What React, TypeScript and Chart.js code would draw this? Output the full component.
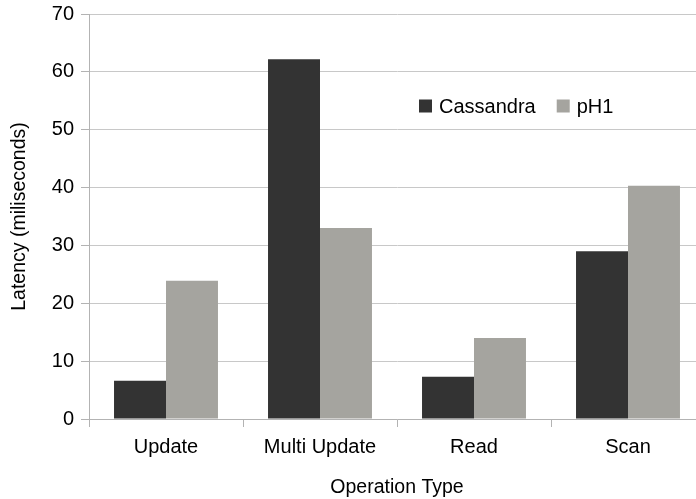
import React, { useEffect, useRef } from "react";
import { Chart, registerables } from "chart.js";

Chart.register(...registerables);

const categories = ["Update", "Multi Update", "Read", "Scan"];
const cassandraValues = [6.6, 62.2, 7.3, 29.0];
const ph1Values = [23.9, 33.0, 14.0, 40.3];
const seriesNames = ["Cassandra", "pH1"];
const seriesColors = ["#333333", "#a5a49f"];
const yTitle = "Latency (miliseconds)";
const xTitle = "Operation Type";

const FONT = "'Liberation Sans', Arial, sans-serif";

const insideLegend = {
  id: "insideLegend",
  afterDraw(chart: any) {
    const ctx = chart.ctx;
    const y = 106;
    ctx.save();
    ctx.font = `20px ${FONT}`;
    ctx.textBaseline = "middle";
    ctx.textAlign = "left";
    let x = 419;
    chart.data.datasets.forEach((ds: any) => {
      ctx.fillStyle = ds.backgroundColor;
      ctx.fillRect(x, y - 6.5, 13, 13);
      ctx.fillStyle = "#000000";
      ctx.fillText(ds.label, x + 20, y + 1);
      x += 20 + ctx.measureText(ds.label).width + 21;
    });
    ctx.restore();
  },
};

export default function App() {
  const ref = useRef<HTMLCanvasElement | null>(null);
  useEffect(() => {
    document.body.style.margin = "0";
    document.body.style.overflow = "hidden";
    if (!ref.current) return;
    const chart = new Chart(ref.current, {
      type: "bar",
      data: {
        labels: categories,
        datasets: [
          {
            label: seriesNames[0],
            data: cassandraValues,
            backgroundColor: seriesColors[0],
            categoryPercentage: 0.675,
            barPercentage: 1,
          },
          {
            label: seriesNames[1],
            data: ph1Values,
            backgroundColor: seriesColors[1],
            categoryPercentage: 0.675,
            barPercentage: 1,
          },
        ],
      },
      options: {
        animation: false,
        responsive: false,
        devicePixelRatio: 1,
        layout: { padding: { top: 14, right: 5, left: 0, bottom: 0 } },
        plugins: {
          legend: { display: false },
          tooltip: { enabled: false },
        },
        scales: {
          x: {
            grid: {
              display: true,
              offset: true,
              drawOnChartArea: false,
              drawTicks: true,
              tickLength: 8,
              color: "#b3b3b3",
            },
            border: { display: true, color: "#b3b3b3", width: 1 },
            ticks: {
              color: "#000000",
              font: { family: FONT, size: 20 },
              padding: 8,
              maxRotation: 0,
            },
            title: {
              display: true,
              text: xTitle,
              color: "#000000",
              font: { family: FONT, size: 19.5 },
              padding: { top: 4, bottom: 0 },
            },
            afterFit(scale: any) {
              scale.height = 80;
              scale.paddingLeft = 0;
              scale.paddingRight = 0;
            },
          },
          y: {
            min: 0,
            max: 70,
            ticks: {
              stepSize: 10,
              color: "#000000",
              font: { family: FONT, size: 20 },
              padding: 7,
            },
            grid: {
              display: true,
              color: "#c8c8c8",
              tickLength: 8,
              tickColor: "#b3b3b3",
            },
            border: { display: true, color: "#b3b3b3", width: 1 },
            title: {
              display: true,
              text: yTitle,
              color: "#000000",
              font: { family: FONT, size: 19.5 },
              padding: { top: 8, bottom: 0 },
            },
            afterFit(scale: any) {
              scale.width = 89;
              scale.paddingTop = 0;
              scale.paddingBottom = 0;
            },
          },
        },
      },
      plugins: [insideLegend],
    } as any);
    return () => chart.destroy();
  }, []);
  return (
    <div
      style={{
        position: "fixed",
        left: 0,
        top: 0,
        width: 696,
        height: 499,
        overflow: "hidden",
        background: "#ffffff",
      }}
    >
      <canvas ref={ref} width={710} height={499} style={{ display: "block" }} />
    </div>
  );
}
